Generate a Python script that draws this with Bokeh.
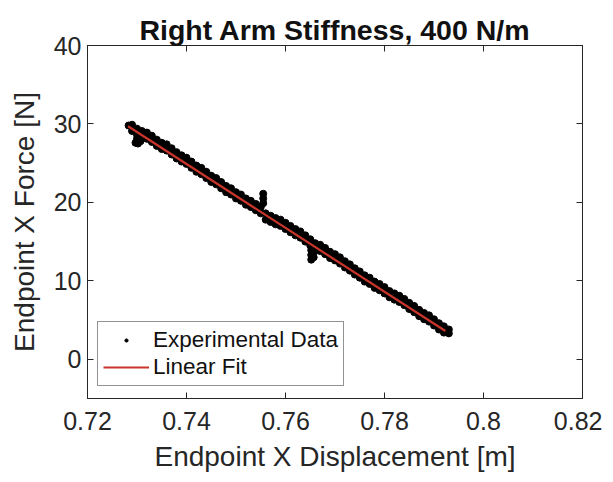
from bokeh.plotting import figure
from bokeh.models import FixedTicker, LinearAxis, Legend, LegendItem, Range1d
from bokeh.embed import file_html
from bokeh.resources import INLINE

# ---- data ----
title_text = "Right Arm Stiffness, 400 N/m"
x_label = "Endpoint X Displacement [m]"
y_label = "Endpoint X Force [N]"

x_ticks = [0.72, 0.74, 0.76, 0.78, 0.8, 0.82]
x_tick_labels = ["0.72", "0.74", "0.76", "0.78", "0.8", "0.82"]
y_ticks = [0, 10, 20, 30, 40]
y_tick_labels = ["0", "10", "20", "30", "40"]

exp_x = [0.729, 0.730, 0.731, 0.732, 0.733, 0.734, 0.735, 0.736, 0.737, 0.738,
         0.739, 0.740, 0.741, 0.742, 0.743, 0.744, 0.745, 0.746, 0.747, 0.748,
         0.749, 0.750, 0.751, 0.752, 0.753, 0.754, 0.755, 0.756, 0.757, 0.758,
         0.759, 0.760, 0.761, 0.762, 0.763, 0.764, 0.765, 0.766, 0.767, 0.768,
         0.769, 0.770, 0.771, 0.772, 0.773, 0.774, 0.775, 0.776, 0.777, 0.778,
         0.779, 0.780, 0.781, 0.782, 0.783, 0.784, 0.785, 0.786, 0.787, 0.788,
         0.789, 0.790, 0.791, 0.792, 0.793]
exp_hi = [29.9, 29.4, 29.1, 28.9, 28.5, 28.0, 27.6, 27.4, 26.9, 26.4,
          26.0, 25.7, 25.2, 24.7, 24.4, 23.9, 23.4, 23.1, 22.6, 22.1,
          21.8, 21.3, 21.0, 20.5, 20.2, 19.8, 19.4, 18.6, 18.3, 18.0,
          17.8, 17.4, 17.0, 16.6, 16.3, 15.8, 15.3, 14.8, 14.6, 14.2,
          13.7, 13.4, 13.0, 12.5, 12.1, 11.6, 11.2, 10.7, 10.4, 9.9,
          9.6, 9.2, 8.7, 8.4, 8.1, 7.7, 7.2, 6.8, 6.3, 5.9,
          5.6, 5.1, 4.6, 4.2, 3.8]
exp_lo = [29.1, 28.6, 28.3, 28.1, 27.7, 27.2, 26.8, 26.6, 26.1, 25.6,
          25.2, 24.9, 24.4, 23.9, 23.6, 23.1, 22.6, 22.3, 21.8, 21.3,
          21.0, 20.5, 20.2, 19.7, 19.4, 19.0, 18.6, 17.8, 17.5, 17.2,
          17.0, 16.6, 16.2, 15.8, 15.5, 15.0, 14.5, 14.0, 13.8, 13.4,
          12.9, 12.6, 12.2, 11.7, 11.3, 10.8, 10.4, 9.9, 9.6, 9.1,
          8.8, 8.4, 7.9, 7.6, 7.3, 6.9, 6.4, 6.0, 5.5, 5.1,
          4.8, 4.3, 3.8, 3.4, 3.3]
spike_x = [0.7283, 0.7297, 0.7300, 0.7302, 0.7307, 0.7555, 0.7555, 0.7555,
           0.7652, 0.7652, 0.7652, 0.7657, 0.7657]
spike_y = [29.8, 27.6, 28.1, 27.5, 27.8, 21.1, 20.5, 19.9,
           13.9, 13.3, 12.7, 13.6, 13.0]

fit_x = [0.7282, 0.7923]
fit_y = [29.7, 3.6]

legend_labels = ["Experimental Data", "Linear Fit"]

# ---- figure ----
TXT = "#262626"
FONT = "Liberation Sans"
FIT_COLOR = "#c9352a"

p = figure(width=602, height=482,
           x_range=Range1d(0.72, 0.82), y_range=Range1d(-5, 40),
           output_backend="svg", toolbar_location=None,
           min_border_left=87, min_border_right=20,
           min_border_top=45, min_border_bottom=84,
           title=title_text)

p.title.text_font = FONT
p.title.text_font_size = "28.5px"
p.title.text_font_style = "bold"
p.title.text_color = "#111111"
p.title.align = "center"
p.title.standoff = 0

p.xgrid.visible = False
p.ygrid.visible = False
p.outline_line_color = TXT
p.outline_line_width = 1
p.background_fill_color = "white"
p.border_fill_color = "white"

all_x = exp_x + exp_x + spike_x
all_y = exp_hi + exp_lo + spike_y
pts = p.scatter(all_x, all_y, marker="circle", size=7, color="black")
fit = p.line(fit_x, fit_y, line_color=FIT_COLOR, line_width=2.2)


def style_axis(ax, ticks, labels, show_labels=True):
    ax.ticker = FixedTicker(ticks=ticks)
    ax.major_label_overrides = {t: l for t, l in zip(ticks, labels)}
    ax.major_tick_in = 6
    ax.major_tick_out = 0
    ax.minor_tick_in = 0
    ax.minor_tick_out = 0
    ax.axis_line_color = TXT
    ax.major_tick_line_color = TXT
    ax.major_label_text_font = FONT
    ax.major_label_text_color = TXT
    if show_labels:
        ax.major_label_text_font_size = "25px"
    else:
        ax.major_label_text_font_size = "1px"
        ax.major_label_text_alpha = 0
        ax.major_label_standoff = 0
    ax.axis_label_text_font = FONT
    ax.axis_label_text_font_size = "28px"
    ax.axis_label_text_font_style = "normal"
    ax.axis_label_text_color = TXT


xa = p.xaxis[0]
ya = p.yaxis[0]
style_axis(xa, x_ticks, x_tick_labels)
style_axis(ya, y_ticks, y_tick_labels)
xa.axis_label = x_label
ya.axis_label = y_label
xa.major_label_standoff = 13
xa.axis_label_standoff = 8
ya.major_label_standoff = 6
ya.axis_label_standoff = 11

top_ax = LinearAxis()
style_axis(top_ax, x_ticks, x_tick_labels, show_labels=False)
p.add_layout(top_ax, "above")
right_ax = LinearAxis()
style_axis(right_ax, y_ticks, y_tick_labels, show_labels=False)
p.add_layout(right_ax, "right")

legend = Legend(items=[LegendItem(label=legend_labels[0], renderers=[pts]),
                       LegendItem(label=legend_labels[1], renderers=[fit])],
                location=(10, 12), margin=0, padding=5, spacing=1,
                glyph_width=46, glyph_height=8, label_height=26,
                label_standoff=4,
                label_text_font=FONT, label_text_font_size="22.5px",
                label_text_color="#111111",
                border_line_color=TXT, border_line_width=1,
                background_fill_color="white", background_fill_alpha=1)
p.add_layout(legend)

open("out.html", "w").write(file_html(p, INLINE))
